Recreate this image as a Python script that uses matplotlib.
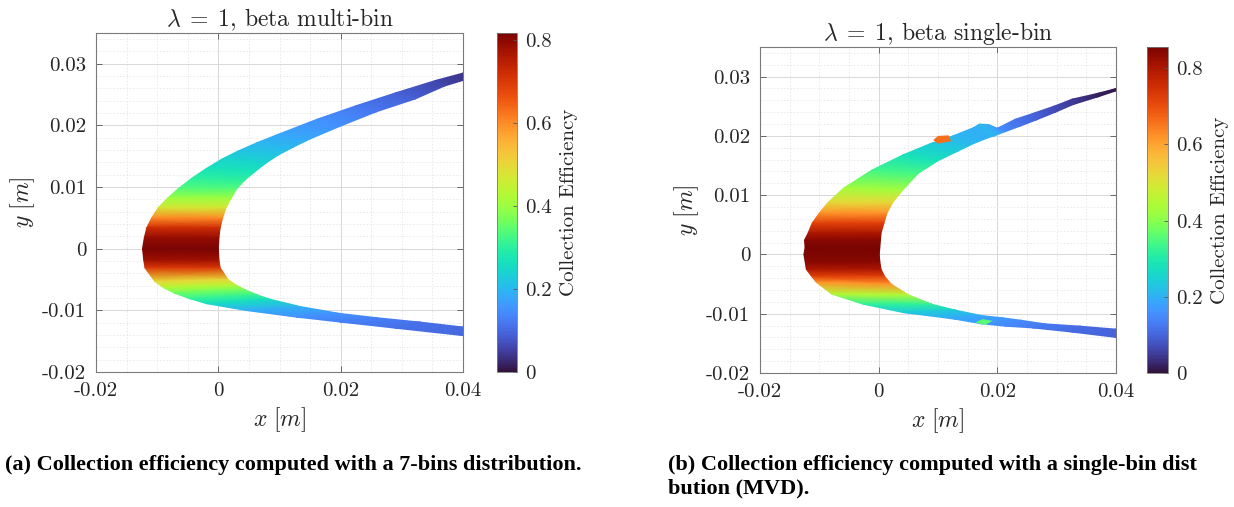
import numpy as np
import matplotlib
matplotlib.use('agg')
import matplotlib.pyplot as plt
from matplotlib.ticker import MultipleLocator

plt.rcParams['font.family'] = 'cmr10'
plt.rcParams['mathtext.fontset'] = 'cm'
plt.rcParams['axes.unicode_minus'] = False

# multi-bin (7 bins) impingement band, stations run upper tip -> nose -> lower tip
multi_outer_x = [0.0400, 0.0355, 0.0290, 0.0225, 0.0161, 0.0096, 0.0063, 0.0031, 0.0005, -0.0020,
                 -0.0044, -0.0066, -0.0083, -0.0098, -0.0109, -0.0117, -0.0121, -0.0124, -0.0122,
                 -0.0120, -0.0104, -0.0090, -0.0072, -0.0047, -0.0020, 0.0044, 0.0128, 0.0199,
                 0.0290, 0.0400]
multi_outer_y = [0.0285, 0.0273, 0.0253, 0.0232, 0.0210, 0.0185, 0.0172, 0.0158, 0.0145, 0.0130,
                 0.0114, 0.0097, 0.0082, 0.0067, 0.0050, 0.0034, 0.0018, 0.0000, -0.0018,
                 -0.0031, -0.0053, -0.0063, -0.0072, -0.0081, -0.0089, -0.0100, -0.0111, -0.0119,
                 -0.0129, -0.0141]
multi_inner_x = [0.0400, 0.0370, 0.0322, 0.0258, 0.0200, 0.0150, 0.0123, 0.0098, 0.0078, 0.0060,
                 0.0043, 0.0030, 0.0021, 0.0013, 0.0007, 0.0003, 0.0001, 0.0000, 0.0001,
                 0.0003, 0.0016, 0.0029, 0.0045, 0.0064, 0.0085, 0.0135, 0.0199, 0.0260,
                 0.0330, 0.0400]
multi_inner_y = [0.0273, 0.0264, 0.0243, 0.0222, 0.0199, 0.0178, 0.0165, 0.0152, 0.0139, 0.0125,
                 0.0111, 0.0097, 0.0082, 0.0067, 0.0050, 0.0034, 0.0018, 0.0000, -0.0018,
                 -0.0031, -0.0050, -0.0059, -0.0067, -0.0075, -0.0082, -0.0094, -0.0105, -0.0112,
                 -0.0119, -0.0127]
multi_beta = [0.04, 0.06, 0.09, 0.12, 0.15, 0.18, 0.20, 0.22, 0.245, 0.27,
              0.30, 0.34, 0.40, 0.47, 0.60, 0.72, 0.79, 0.817, 0.78,
              0.70, 0.50, 0.43, 0.36, 0.31, 0.26, 0.19, 0.15, 0.13,
              0.11, 0.10]

# single-bin (MVD) band
single_outer_x = [0.0400, 0.0370, 0.0326, 0.0295, 0.0260, 0.0230, 0.0200, 0.0185, 0.0170, 0.0160,
                  0.0125, 0.0087, 0.0041, -0.0012, -0.0059, -0.0085, -0.0100, -0.0112, -0.0119,
                  -0.0125, -0.0124, -0.0126, -0.0124, -0.0122, -0.0113, -0.0105, -0.0079, -0.0026,
                  0.0041, 0.0127, 0.0173, 0.0213, 0.0260, 0.0326, 0.0400]
single_outer_y = [0.0280, 0.0272, 0.0262, 0.0250, 0.0238, 0.0228, 0.0213, 0.0219, 0.0220, 0.0214,
                  0.0200, 0.0187, 0.0168, 0.0142, 0.0112, 0.0088, 0.0070, 0.0053, 0.0036,
                  0.0024, 0.0012, 0.0000, -0.0012, -0.0025, -0.0037, -0.0047, -0.0067, -0.0084,
                  -0.0098, -0.0109, -0.0117, -0.0121, -0.0124, -0.0131, -0.0140]
single_inner_x = [0.0400, 0.0370, 0.0328, 0.0298, 0.0266, 0.0240, 0.0213, 0.0205, 0.0195, 0.0185,
                  0.0160, 0.0135, 0.0100, 0.0067, 0.0040, 0.0024, 0.0014, 0.0009, 0.0004,
                  0.0003, 0.0002, 0.0001, 0.0002, 0.0004, 0.0010, 0.0021, 0.0050, 0.0090,
                  0.0130, 0.0173, 0.0210, 0.0240, 0.0280, 0.0340, 0.0400]
single_inner_y = [0.0276, 0.0266, 0.0253, 0.0240, 0.0227, 0.0217, 0.0207, 0.0204, 0.0200, 0.0197,
                  0.0187, 0.0175, 0.0158, 0.0137, 0.0108, 0.0088, 0.0070, 0.0053, 0.0036,
                  0.0024, 0.0012, 0.0000, -0.0012, -0.0025, -0.0037, -0.0050, -0.0068, -0.0084,
                  -0.0094, -0.0103, -0.0107, -0.0111, -0.0117, -0.0121, -0.0126]
single_beta = [0.01, 0.02, 0.05, 0.07, 0.10, 0.12, 0.15, 0.19, 0.21, 0.20,
               0.21, 0.24, 0.28, 0.34, 0.43, 0.52, 0.62, 0.72, 0.80,
               0.84, 0.856, 0.85, 0.84, 0.80, 0.72, 0.62, 0.45, 0.32,
               0.24, 0.19, 0.17, 0.15, 0.13, 0.11, 0.10]

# local spots on the single-bin band edge
spot_upper_x = [0.0092, 0.0100, 0.0118, 0.0122, 0.0100]
spot_upper_y = [0.0193, 0.0200, 0.0201, 0.0191, 0.0187]
spot_upper_beta = 0.66
spot_lower_x = [0.0163, 0.0180, 0.0192, 0.0175]
spot_lower_y = [-0.0115, -0.0119, -0.0112, -0.0109]
spot_lower_beta = 0.36

titles = [r'$\lambda \;=\; 1$, beta multi-bin', r'$\lambda \;=\; 1$, beta single-bin']
x_ticks = [-0.02, 0, 0.02, 0.04]
x_tick_labels = ['-0.02', '0', '0.02', '0.04']
y_ticks = [-0.02, -0.01, 0, 0.01, 0.02, 0.03]
y_tick_labels = ['-0.02', '-0.01', '0', '0.01', '0.02', '0.03']
cbar_ticks = [0, 0.2, 0.4, 0.6, 0.8]
cbar_tick_labels = ['0', '0.2', '0.4', '0.6', '0.8']
captions = ['(a) Collection efficiency computed with a 7-bins distribution.',
            '(b) Collection efficiency computed with a single-bin dist\nbution (MVD).']

W, H = 1234, 507
fig = plt.figure(figsize=(W / 100, H / 100), dpi=100)


def px_rect(x0, x1, y0, y1):
    return [x0 / W, 1 - y1 / H, (x1 - x0) / W, (y1 - y0) / H]


def draw_panel(ax_rect, cb_rect, ox, oy, ix, iy, beta, title, spots=()):
    ax = fig.add_axes(ax_rect)
    cax = fig.add_axes(cb_rect)
    vmax = max(beta)
    X = np.array([ox, ix])
    Y = np.array([oy, iy])
    C = np.array([beta, beta])
    mesh = ax.pcolormesh(X, Y, C, shading='gouraud', cmap='turbo', vmin=0, vmax=vmax,
                         zorder=3, rasterized=True)
    for sx, sy, sb in spots:
        ax.fill(sx, sy, color=plt.get_cmap('turbo')(sb / vmax), lw=0, zorder=4)

    ax.set_xlim(-0.02, 0.04)
    ax.set_ylim(-0.02, 0.035)
    ax.set_xticks(x_ticks, x_tick_labels)
    ax.set_yticks(y_ticks, y_tick_labels)
    ax.xaxis.set_minor_locator(MultipleLocator(0.005))
    ax.yaxis.set_minor_locator(MultipleLocator(0.002))
    ax.grid(which='major', color='#d8d8d8', lw=0.7, zorder=0)
    ax.grid(which='minor', color='#e8e8e8', lw=0.6, ls=(0, (2, 2)), zorder=0)
    ax.set_axisbelow(True)
    ax.tick_params(which='major', direction='in', top=True, right=True, length=4,
                   width=0.6, color='#555555', labelsize=15, labelcolor='#262626', pad=7)
    ax.tick_params(which='minor', length=0)
    for s in ax.spines.values():
        s.set_color('#7a7a7a')
        s.set_linewidth(0.8)
    ax.set_xlabel(r'$x\ [m]$', fontsize=17, color='#262626', labelpad=4)
    ax.set_ylabel(r'$y\ [m]$', fontsize=17, color='#262626', labelpad=4)
    ax.set_title(title, fontsize=17, color='#262626', pad=5)

    cb = fig.colorbar(mesh, cax=cax, ticks=cbar_ticks)
    cb.ax.set_yticklabels(cbar_tick_labels)
    cb.ax.tick_params(direction='in', length=3, width=0.6, color='#555555',
                      labelsize=15, labelcolor='#262626', pad=6)
    cb.outline.set_linewidth(0.6)
    cb.outline.set_edgecolor('#7a7a7a')
    cb.set_label('Collection Efficiency', fontsize=15, color='#262626', labelpad=6)
    return ax


draw_panel(px_rect(96, 463, 33, 372), px_rect(497, 517, 33, 372),
           multi_outer_x, multi_outer_y, multi_inner_x, multi_inner_y, multi_beta, titles[0])
draw_panel(px_rect(760, 1116, 47, 373), px_rect(1147, 1168, 47, 373),
           single_outer_x, single_outer_y, single_inner_x, single_inner_y, single_beta, titles[1],
           spots=[(spot_upper_x, spot_upper_y, spot_upper_beta),
                  (spot_lower_x, spot_lower_y, spot_lower_beta)])

cap_font = dict(family='Liberation Serif', weight='bold', fontsize=16, color='black',
                va='top', ha='left', linespacing=1.2)
fig.text(5 / W, 1 - 455 / H, captions[0], **cap_font)
fig.text(668 / W, 1 - 455 / H, captions[1], **cap_font)

fig.savefig('out.png', dpi=100)
